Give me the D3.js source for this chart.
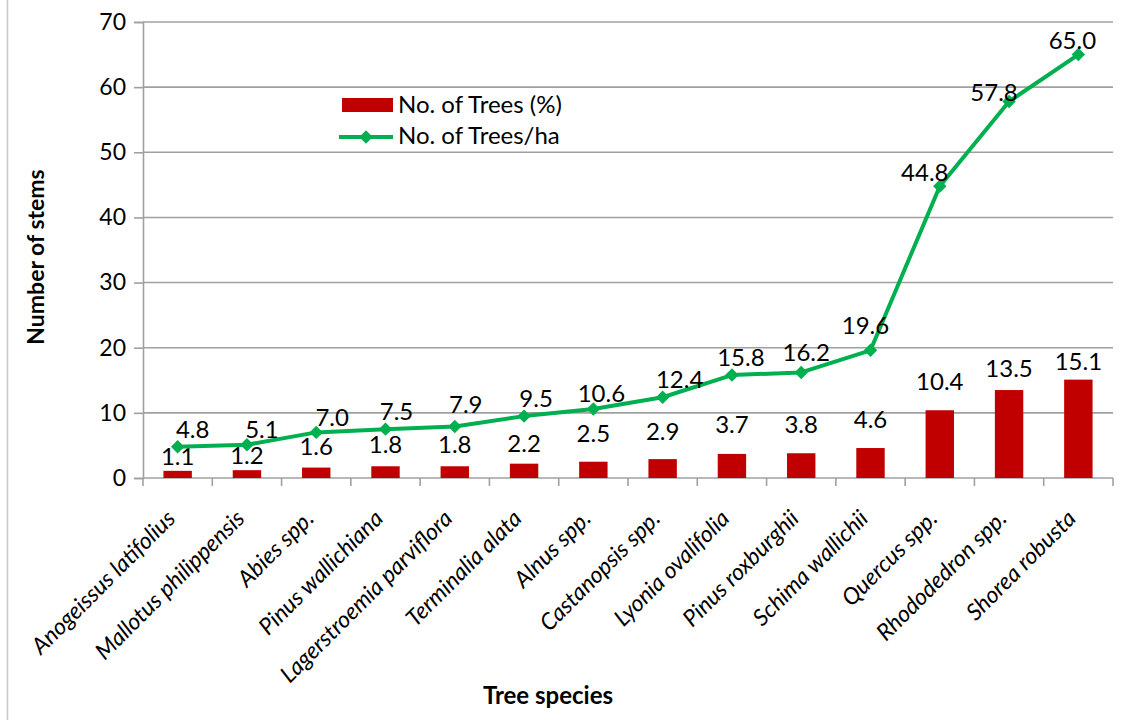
<!DOCTYPE html>
<html>
<head>
<meta charset="utf-8">
<script src="https://cdn.jsdelivr.net/npm/d3@7"></script>
<style>
  html, body { margin: 0; padding: 0; background: #fff; }
  svg { display: block; font-family: Lato, "Open Sans", sans-serif; }
</style>
</head>
<body>
<svg id="chart" width="1131" height="720"></svg>
<script>
// Tree species, ordered by density
const species = [
  "Anogeissus latifolius", "Mallotus philippensis", "Abies spp.", "Pinus wallichiana",
  "Lagerstroemia parviflora", "Terminalia alata", "Alnus spp.", "Castanopsis spp.",
  "Lyonia ovalifolia", "Pinus roxburghii", "Schima wallichii", "Quercus spp.",
  "Rhododedron spp.", "Shorea robusta"
];
// Share of trees (%)
const treesPct = [1.1, 1.2, 1.6, 1.8, 1.8, 2.2, 2.5, 2.9, 3.7, 3.8, 4.6, 10.4, 13.5, 15.1];
// Trees per hectare
const treesPerHa = [4.8, 5.1, 7.0, 7.5, 7.9, 9.5, 10.6, 12.4, 15.8, 16.2, 19.6, 44.8, 57.8, 65.0];
const yTicks = [0, 10, 20, 30, 40, 50, 60, 70];

// Hand-placed label nudges (px) so labels clear the line
const lineLabelNudge = [[15,-9],[15,-7],[16,-6],[11,-9],[11,-14],[12,-9],[8,-7],[17,-9],[9,-9],[5,-11],[-5,-16],[-15,-5],[-15,0],[-6,-6]];
const barLabelGap = [6, 6, 13, 13, 13, 12, 20, 19, 21, 20, 20, 20, 13, 10];

const svg = d3.select("#chart");
const plotLeft = 143, plotRight = 1113, plotTop = 22, plotBottom = 478;
const gridColor = "#a0a0a0";
const labelSize = 24;

// outer frame edge
svg.append("line").attr("x1", 7.5).attr("x2", 7.5).attr("y1", 0).attr("y2", 720)
  .attr("stroke", "#c8c8c8").attr("stroke-width", 1.5);

const x = d3.scaleBand().domain(species).range([plotLeft, plotRight]).paddingInner(0).paddingOuter(0);
const y = d3.scaleLinear().domain([0, 70]).range([plotBottom, plotTop]);

// horizontal gridlines
svg.append("g").selectAll("line").data(yTicks.filter(d => d > 0)).join("line")
  .attr("x1", plotLeft).attr("x2", plotRight)
  .attr("y1", d => y(d)).attr("y2", d => y(d))
  .attr("stroke", gridColor).attr("stroke-width", 1.6);

// y axis
const yAxis = svg.append("g").attr("transform", `translate(${plotLeft},0)`)
  .call(d3.axisLeft(y).tickValues(yTicks).tickSize(9).tickPadding(8));
yAxis.select(".domain").attr("stroke", gridColor).attr("stroke-width", 1.6);
yAxis.selectAll(".tick line").attr("stroke", gridColor).attr("stroke-width", 1.6);
yAxis.selectAll(".tick text").attr("font-size", 23).attr("fill", "#000")
  .attr("font-family", "Lato, sans-serif");

// x axis: baseline and boundary ticks
svg.append("line").attr("x1", plotLeft).attr("x2", plotRight).attr("y1", plotBottom).attr("y2", plotBottom)
  .attr("stroke", gridColor).attr("stroke-width", 1.6);
const bounds = d3.range(species.length + 1).map(i => plotLeft + i * x.step());
svg.append("g").selectAll("line").data(bounds).join("line")
  .attr("x1", d => d).attr("x2", d => d).attr("y1", plotBottom).attr("y2", plotBottom + 8)
  .attr("stroke", gridColor).attr("stroke-width", 1.6);

// category labels, rotated
svg.append("g").selectAll("text").data(species).join("text")
  .attr("transform", d => `translate(${x(d) + x.bandwidth() / 2 - 1},${plotBottom + 42}) rotate(-45)`)
  .attr("text-anchor", "end")
  .attr("font-size", 23).attr("font-style", "italic").attr("fill", "#000")
  .text(d => d);

// bars
const barW = x.bandwidth() * 0.41;
svg.append("g").selectAll("rect").data(treesPct).join("rect")
  .attr("x", (d, i) => x(species[i]) + (x.bandwidth() - barW) / 2)
  .attr("y", d => y(d))
  .attr("width", barW)
  .attr("height", d => plotBottom - y(d))
  .attr("fill", "#c00000");

// bar labels
svg.append("g").selectAll("text").data(treesPct).join("text")
  .attr("x", (d, i) => x(species[i]) + x.bandwidth() / 2)
  .attr("y", (d, i) => y(d) - barLabelGap[i])
  .attr("text-anchor", "middle").attr("font-size", labelSize).attr("fill", "#000")
  .text(d => d.toFixed(1));

// density line
const cx = i => x(species[i]) + x.bandwidth() / 2;
svg.append("path").datum(treesPerHa)
  .attr("d", d3.line().x((d, i) => cx(i)).y(d => y(d)))
  .attr("fill", "none").attr("stroke", "#00b050").attr("stroke-width", 4)
  .attr("stroke-linejoin", "round");

const diamond = d3.symbol().type(d3.symbolDiamond2).size(115);
svg.append("g").selectAll("path").data(treesPerHa).join("path")
  .attr("transform", (d, i) => `translate(${cx(i)},${y(d)})`)
  .attr("d", diamond)
  .attr("fill", "#00b050");

svg.append("g").selectAll("text").data(treesPerHa).join("text")
  .attr("x", (d, i) => cx(i) + lineLabelNudge[i][0])
  .attr("y", (d, i) => y(d) + lineLabelNudge[i][1])
  .attr("text-anchor", "middle").attr("font-size", labelSize).attr("fill", "#000")
  .text(d => d.toFixed(1));

// axis titles
svg.append("text")
  .attr("transform", `translate(44,257) rotate(-90)`)
  .attr("text-anchor", "middle").attr("font-size", 23).attr("font-weight", "bold")
  .text("Number of stems");
svg.append("text")
  .attr("x", 548).attr("y", 704)
  .attr("text-anchor", "middle").attr("font-size", 24).attr("font-weight", "bold")
  .text("Tree species");

// legend
const legend = svg.append("g");
legend.append("rect").attr("x", 342).attr("y", 98).attr("width", 51).attr("height", 14)
  .attr("fill", "#c00000");
legend.append("text").attr("x", 398).attr("y", 113).attr("font-size", labelSize).text("No. of Trees (%)");
legend.append("line").attr("x1", 339).attr("x2", 393).attr("y1", 137).attr("y2", 137)
  .attr("stroke", "#00b050").attr("stroke-width", 4);
legend.append("path").attr("transform", "translate(366,137)").attr("d", diamond).attr("fill", "#00b050");
legend.append("text").attr("x", 398).attr("y", 144).attr("font-size", labelSize).text("No. of Trees/ha");
</script>
</body>
</html>
